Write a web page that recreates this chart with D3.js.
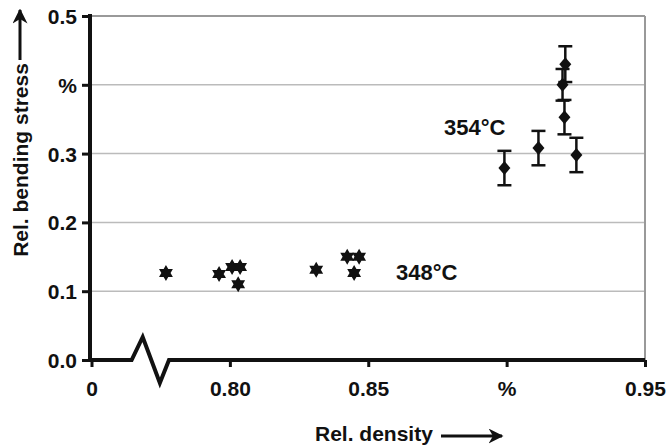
<!DOCTYPE html>
<html>
<head>
<meta charset="utf-8">
<script src="https://cdn.jsdelivr.net/npm/d3@7"></script>
<style>
  body { margin: 0; background: #fff; }
  svg text { font-family: "Liberation Sans", Arial, sans-serif; font-weight: bold; fill: #111; }
</style>
</head>
<body>
<svg width="668" height="448"></svg>
<script>
// 348°C series (small stars, no visible error bars)
const density348 = [0.7769, 0.7961, 0.8008, 0.8037, 0.8030, 0.8312, 0.8424, 0.8467, 0.8449]
const stress348 = [0.1265, 0.125, 0.135, 0.135, 0.110, 0.131, 0.150, 0.150, 0.1265]

// 354°C series (diamonds with error bars)
const density354 = [0.8992, 0.9115, 0.9252, 0.9212, 0.9202, 0.9209]
const stress354 = [0.279, 0.308, 0.298, 0.430, 0.400, 0.353]
const error354 = [0.025, 0.025, 0.025, 0.026, 0.023, 0.025]

const xTicks = [0.75, 0.80, 0.85, 0.90, 0.95]
const xTickLabels = ["0", "0.80", "0.85", "%", "0.95"]
const yTicks = [0, 0.1, 0.2, 0.3, 0.4, 0.5]
const yTickLabels = ["0.0", "0.1", "0.2", "0.3", "%", "0.5"]

const svg = d3.select("svg")

const x = d3.scaleLinear().domain([0.75, 0.95]).range([91.5, 645])
const y = d3.scaleLinear().domain([0, 0.5]).range([360, 16])

// gridlines
svg.append("g")
    .selectAll("line")
    .data(yTicks.slice(1))
    .enter()
    .append("line")
    .attr("x1", x(0.75))
    .attr("x2", x(0.95))
    .attr("y1", d => y(d))
    .attr("y2", d => y(d))
    .style("stroke", d => d == 0.5 ? "#999" : "#bbb")
    .style("stroke-width", d => d == 0.5 ? 2 : 1.5)

svg.append("line")
    .attr("x1", x(0.95)).attr("x2", x(0.95))
    .attr("y1", y(0.5)).attr("y2", y(0))
    .style("stroke", "#999")
    .style("stroke-width", 2)

// y axis
const yAxis = svg.append("g")
    .attr("transform", "translate(90,0)")
    .call(d3.axisLeft(y).tickValues(yTicks).tickFormat((d, i) => yTickLabels[i]).tickSize(8).tickPadding(5))
yAxis.select(".domain").remove()
yAxis.selectAll(".tick line").style("stroke", "#111").style("stroke-width", 3)
yAxis.selectAll(".tick text").style("font-size", "21px").attr("dy", "0.36em")

svg.append("line")
    .attr("x1", 90).attr("x2", 90)
    .attr("y1", y(0.5) - 2).attr("y2", y(0) + 2)
    .style("stroke", "#111")
    .style("stroke-width", 4)

// x axis
const xAxis = svg.append("g")
    .attr("transform", "translate(0,360)")
    .call(d3.axisBottom(x).tickValues(xTicks).tickFormat((d, i) => xTickLabels[i]).tickSize(7).tickPadding(14))
xAxis.select(".domain").remove()
xAxis.selectAll(".tick line").style("stroke", "#111").style("stroke-width", 3)
xAxis.selectAll(".tick text").style("font-size", "21px")

// axis line with break mark
const breakPts = [
    [x(0.75) - 2, y(0)],
    [x(0.7645), y(0)],
    [x(0.7685), y(0) - 23],
    [x(0.7747), y(0) + 23],
    [x(0.7780), y(0)],
    [x(0.95), y(0)]
]
svg.append("path")
    .attr("d", d3.line()(breakPts))
    .style("fill", "none")
    .style("stroke", "#111")
    .style("stroke-width", 4)
    .style("stroke-linejoin", "miter")

// 348°C points: six-pointed stars
const star = r => {
    const up = [0, 1, 2].map(k => [r * Math.sin(k * 2 * Math.PI / 3), -r * Math.cos(k * 2 * Math.PI / 3)])
    const down = up.map(p => [p[0], -p[1]]).reverse()
    return "M" + up.join("L") + "Z M" + down.join("L") + "Z"
}

svg.append("g")
    .selectAll("path")
    .data(density348)
    .enter()
    .append("path")
    .attr("transform", (d, i) => `translate(${x(d)}, ${y(stress348[i])})`)
    .attr("d", star(8))
    .style("fill", "#111")

// 354°C error bars
const bars = svg.append("g")
    .selectAll("g")
    .data(density354)
    .enter()
    .append("g")
    .attr("transform", d => `translate(${x(d)}, 0)`)
    .style("stroke", "#111")
    .style("stroke-width", 2.5)

bars.append("line")
    .attr("y1", (d, i) => y(stress354[i] + error354[i]))
    .attr("y2", (d, i) => y(stress354[i] - error354[i]))
bars.append("line")
    .attr("x1", -7).attr("x2", 7)
    .attr("y1", (d, i) => y(stress354[i] + error354[i]))
    .attr("y2", (d, i) => y(stress354[i] + error354[i]))
bars.append("line")
    .attr("x1", -7).attr("x2", 7)
    .attr("y1", (d, i) => y(stress354[i] - error354[i]))
    .attr("y2", (d, i) => y(stress354[i] - error354[i]))

svg.append("g")
    .selectAll("path")
    .data(density354)
    .enter()
    .append("path")
    .attr("transform", (d, i) => `translate(${x(d)}, ${y(stress354[i])})`)
    .attr("d", "M0,-7L6,0L0,7L-6,0Z")
    .style("fill", "#111")

// series labels
svg.append("text")
    .attr("x", 396).attr("y", 280)
    .style("font-size", "22px")
    .text("348°C")

svg.append("text")
    .attr("x", 444).attr("y", 135)
    .style("font-size", "22px")
    .text("354°C")

// axis titles with arrows
svg.append("defs").append("marker")
    .attr("id", "arrow")
    .attr("viewBox", "0 0 10 10")
    .attr("refX", 9).attr("refY", 5)
    .attr("markerWidth", 5).attr("markerHeight", 5)
    .attr("markerUnits", "strokeWidth")
    .attr("orient", "auto")
    .append("path")
    .attr("d", "M0,0L10,5L0,10L3,5Z")
    .style("fill", "#111")

svg.append("text")
    .attr("x", 315).attr("y", 441)
    .style("font-size", "21px")
    .text("Rel. density")

svg.append("line")
    .attr("x1", 441).attr("x2", 502)
    .attr("y1", 436).attr("y2", 436)
    .style("stroke", "#111")
    .style("stroke-width", 3)
    .attr("marker-end", "url(#arrow)")

svg.append("text")
    .attr("transform", "translate(28,160) rotate(-90)")
    .style("text-anchor", "middle")
    .style("font-size", "21px")
    .text("Rel. bending stress")

svg.append("line")
    .attr("x1", 20).attr("x2", 20)
    .attr("y1", 60).attr("y2", 10)
    .style("stroke", "#111")
    .style("stroke-width", 3)
    .attr("marker-end", "url(#arrow)")
</script>
</body>
</html>
